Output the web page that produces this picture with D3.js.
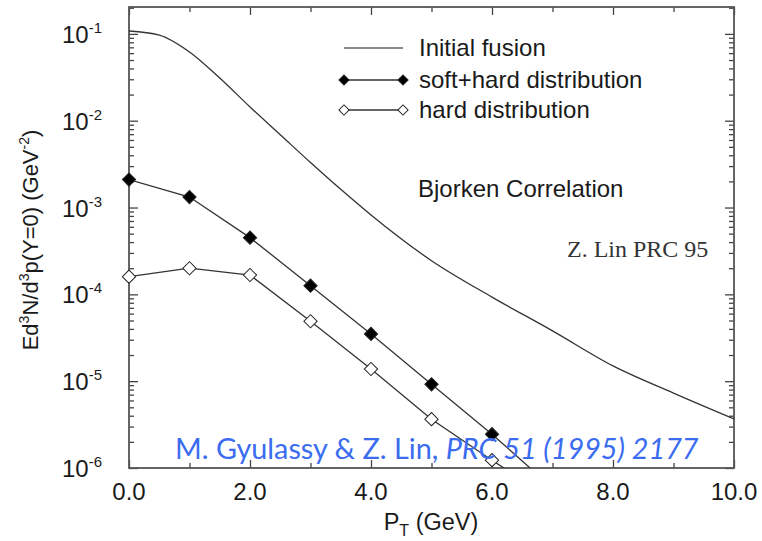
<!DOCTYPE html>
<html>
<head>
<meta charset="utf-8">
<script src="https://cdn.jsdelivr.net/npm/d3@7"></script>
<style>
	body{margin:0;background:#fff;}
	#grafica{width:762px;height:541px;}
	text{font-family:"Liberation Sans",Arial,sans-serif;fill:#1a1a1a;}
</style>
</head>
<body>
<div id="grafica"></div>
<script>
// datos (pT en GeV)
var ptMarcas=[0,1,2,3,4,5,6,7]
var softHard=[2.1e-3,1.32e-3,4.5e-4,1.26e-4,3.5e-5,9.2e-6,2.45e-6,5.9e-7]
var hard=[1.6e-4,2.0e-4,1.67e-4,4.9e-5,1.38e-5,3.65e-6,1.23e-6,4.3e-7]

var ptFusion=[0,0.5,1,1.5,2,2.5,3,3.5,4,5,6,7,8,9,10]
var fusion=[0.108,0.097,0.062,0.031,0.0144,6.9e-3,3.3e-3,1.62e-3,8.2e-4,2.44e-4,9.3e-5,3.8e-5,1.5e-5,7.3e-6,3.68e-6]

var ticksX=[0,2,4,6,8,10]
var ticksXMenores=[1,3,5,7,9]
var decadas=[1e-6,1e-5,1e-4,1e-3,1e-2,1e-1]
var etiquetasY=["-6","-5","-4","-3","-2","-1"]
var leyenda=["Initial fusion","soft+hard distribution","hard distribution"]

grafica();

function grafica(){
	var margin={top:7,bottom:73,left:129,right:28}
	var ancho=762-margin.left-margin.right
	var alto=541-margin.top-margin.bottom

	var raiz=d3.select("#grafica")
		.append("svg")
		.attr("width",762)
		.attr("height",541)
	var svg=raiz.append("g")
		.attr("transform","translate("+margin.left+","+margin.top+")")

	//Escalas
	var escalaX=d3.scaleLinear()
		.domain([0,10])
		.range([0,ancho])
	var escalaY=d3.scaleLog()
		.domain([1e-6,0.204])
		.range([alto,0])

	var menoresY=escalaY.ticks().filter(d=>decadas.indexOf(d)<0)

	//Ejes con ticks hacia adentro
	var ejes=[
		{eje:d3.axisBottom(escalaX).tickValues(ticksX),t:"translate(0,"+alto+")",largo:-8},
		{eje:d3.axisBottom(escalaX).tickValues(ticksXMenores),t:"translate(0,"+alto+")",largo:-5},
		{eje:d3.axisTop(escalaX).tickValues(ticksX),t:"translate(0,0)",largo:-8},
		{eje:d3.axisTop(escalaX).tickValues(ticksXMenores),t:"translate(0,0)",largo:-5},
		{eje:d3.axisLeft(escalaY).tickValues(decadas),t:"translate(0,0)",largo:-9},
		{eje:d3.axisLeft(escalaY).tickValues(menoresY),t:"translate(0,0)",largo:-5},
		{eje:d3.axisRight(escalaY).tickValues(decadas),t:"translate("+ancho+",0)",largo:-9},
		{eje:d3.axisRight(escalaY).tickValues(menoresY),t:"translate("+ancho+",0)",largo:-5}
	]
	ejes.forEach(function(e){
		var g=svg.append("g")
			.attr("transform",e.t)
			.call(e.eje.tickSize(e.largo).tickSizeOuter(0).tickFormat(""))
		g.select(".domain").remove()
		g.selectAll("line").style("stroke","#444").style("stroke-width","1.3px")
	})

	//Marco
	svg.append("rect")
		.attr("width",ancho)
		.attr("height",alto)
		.style("fill","none")
		.style("stroke","#555")
		.style("stroke-width","1.8px")

	//Etiquetas eje x
	svg.selectAll(".etx")
		.data(ticksX)
		.enter()
		.append("text")
		.attr("x",d=>escalaX(d))
		.attr("y",alto+32)
		.attr("text-anchor","middle")
		.style("font-size","24px")
		.text(d=>d3.format(".1f")(d))

	//Etiquetas eje y (potencias de 10)
	var ety=svg.selectAll(".ety")
		.data(decadas)
		.enter()
		.append("text")
		.attr("x",-67)
		.attr("y",d=>escalaY(d)+9)
		.style("font-size","24px")
	ety.append("tspan").text("10")
	ety.append("tspan")
		.attr("dy",-10)
		.style("font-size","15px")
		.text((d,i)=>etiquetasY[i])

	//Titulo eje x
	var tx=raiz.append("text")
		.attr("x",431)
		.attr("y",530)
		.attr("text-anchor","middle")
		.style("font-size","23.5px")
	tx.append("tspan").text("P")
	tx.append("tspan").attr("dy",6).style("font-size","16px").text("T")
	tx.append("tspan").attr("dy",-6).text(" (GeV)")

	//Titulo eje y
	var ty=raiz.append("text")
		.attr("transform","translate(38,240) rotate(-90)")
		.attr("text-anchor","middle")
		.style("font-size","22px")
	ty.append("tspan").text("Ed")
	ty.append("tspan").attr("dy",-9).style("font-size","14px").text("3")
	ty.append("tspan").attr("dy",9).text("N/d")
	ty.append("tspan").attr("dy",-9).style("font-size","14px").text("3")
	ty.append("tspan").attr("dy",9).text("p(Y=0) (GeV")
	ty.append("tspan").attr("dy",-9).style("font-size","14px").text("-2")
	ty.append("tspan").attr("dy",9).text(")")

	//Recorte del area de la grafica
	svg.append("clipPath")
		.attr("id","recorte")
		.append("rect")
		.attr("width",ancho)
		.attr("height",alto)

	var area=svg.append("g").attr("clip-path","url(#recorte)")

	var linea=d3.line()
		.x(d=>escalaX(d[0]))
		.y(d=>escalaY(d[1]))
	var curva=d3.line()
		.x(d=>escalaX(d[0]))
		.y(d=>escalaY(d[1]))
		.curve(d3.curveMonotoneX)

	var series=[
		ptFusion.map((d,i)=>[d,fusion[i]]),
		ptMarcas.map((d,i)=>[d,softHard[i]]),
		ptMarcas.map((d,i)=>[d,hard[i]])
	]

	area.selectAll(".linea")
		.data(series)
		.enter()
		.append("path")
		.attr("d",(d,i)=>i==0?curva(d):linea(d))
		.style("fill","none")
		.style("stroke","#333")
		.style("stroke-width","1.3px")

	var diamante=d3.symbol().type(d3.symbolSquare).size(88)
	var rellenos=["#000","#fff"]
	;[series[1],series[2]].forEach(function(s,k){
		svg.selectAll(".m"+k)
			.data(s.filter(d=>d[1]>=1e-6*0.97))
			.enter()
			.append("path")
			.attr("d",diamante)
			.attr("transform",d=>"translate("+escalaX(d[0])+","+escalaY(d[1])+") rotate(45)")
			.style("fill",rellenos[k])
			.style("stroke","#222")
			.style("stroke-width","1px")
	})

	//Leyenda
	var filasY=[48,80,110]
	var ley=raiz.selectAll(".ley")
		.data(leyenda)
		.enter()
		.append("g")
		.attr("transform",(d,i)=>"translate(0,"+filasY[i]+")")
	ley.append("line")
		.attr("x1",344).attr("x2",403)
		.style("stroke",(d,i)=>i==0?"#666":"#333")
		.style("stroke-width","1.3px")
	ley.append("text")
		.attr("x",419)
		.attr("y",8)
		.style("font-size","24px")
		.text(d=>d)
	var diamLey=d3.symbol().type(d3.symbolSquare).size(52)
	ley.filter((d,i)=>i>0).each(function(d,i){
		var g=d3.select(this)
		;[344,403].forEach(function(x){
			g.append("path")
				.attr("d",diamLey)
				.attr("transform","translate("+x+",0) rotate(45)")
				.style("fill",rellenos[i])
				.style("stroke","#222")
				.style("stroke-width","1px")
		})
	})

	//Anotaciones
	raiz.append("text")
		.attr("x",418)
		.attr("y",197)
		.style("font-size","24px")
		.text("Bjorken Correlation")

	raiz.append("text")
		.attr("x",567)
		.attr("y",257)
		.style("font-family","'Liberation Serif','Times New Roman',serif")
		.style("font-size","24px")
		.style("fill","#333")
		.text("Z. Lin PRC 95")

	var cita=raiz.append("text")
		.attr("x",175)
		.attr("y",459)
		.style("font-family","Lato,'Open Sans',sans-serif")
		.style("font-size","28.8px")
		.style("fill","#3b6cf0")
	cita.append("tspan").text("M. Gyulassy & Z. Lin, ")
	cita.append("tspan").style("font-style","italic").text("PRC 51 (1995) 2177")
}
</script>
</body>
</html>
